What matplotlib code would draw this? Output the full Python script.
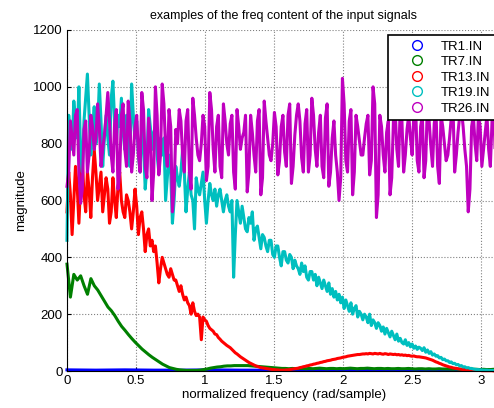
import numpy as np
import matplotlib
matplotlib.use('Agg')
import matplotlib.pyplot as plt
from matplotlib.lines import Line2D

plt.rcParams['font.family'] = ['Liberation Sans', 'DejaVu Sans']

labels = ['TR1.IN', 'TR7.IN', 'TR13.IN', 'TR19.IN', 'TR26.IN']
colors = ['#0000ff', '#008000', '#ff0000', '#00bfbf', '#bf00bf']

# magnitude estimates (bins spread evenly over 0..pi)
tr1 = [4, 3, 4, 3, 3, 4, 3, 3, 4, 3, 3, 4, 3, 3, 4, 3]

tr7 = [376, 260, 340, 320, 335, 300, 270, 325, 300, 285, 265, 245, 225, 212, 195, 175,
       157, 143, 128, 114, 101, 89, 77, 67, 57, 48, 40, 32, 24, 18, 12, 9,
       6, 4, 3, 2, 2, 2, 2, 3, 5, 7, 10, 12, 14, 15, 17, 18,
       18, 19, 19, 19, 19, 19, 18, 17, 16, 15, 14, 13, 12, 11, 10, 9,
       9, 8, 9, 8, 9, 9, 8, 9, 8, 9, 10, 9, 8, 9, 9, 8,
       9, 8, 9, 10, 9, 8, 9, 9, 10, 9, 8, 9, 9, 8, 9, 8,
       8, 9, 8, 8, 9, 8, 7, 8, 8, 7, 8, 7, 7, 8, 7, 7,
       7, 6, 7, 6, 6, 7, 6, 6, 6, 5, 6, 5, 5, 6, 5, 5]

tr13 = [560, 700, 620, 480, 600, 720, 650, 520, 660, 740, 620, 560, 700, 640, 540, 680,
        780, 700, 600, 650, 700, 560, 620, 680, 640, 520, 560, 680, 600, 540, 650, 700,
        600, 560, 540, 620, 600, 560, 500, 560, 640, 580, 480, 540, 560, 500, 420, 480,
        500, 440, 460, 420, 440, 380, 310, 360, 400, 380, 360, 340, 330, 360, 340, 320,
        320, 300, 280, 300, 270, 250, 260, 240, 230, 200, 240, 210, 195, 200, 190, 110,
        190, 180, 175, 160, 150, 145, 140, 130, 128, 118, 112, 105, 100, 95, 90, 86,
        82, 76, 70, 64, 60, 55, 50, 46, 42, 38, 34, 30, 27, 24, 21, 18,
        16, 14, 12, 11, 10, 9, 8, 7, 6, 5, 5, 4, 4, 3, 3, 3,
        3, 4, 4, 5, 6, 7, 8, 9, 10, 12, 13, 15, 16, 18, 19, 21,
        22, 24, 25, 27, 28, 30, 31, 33, 34, 36, 37, 38, 40, 41, 42, 44,
        45, 46, 48, 49, 50, 52, 53, 54, 55, 56, 57, 58, 58, 59, 60, 60,
        61, 60, 62, 61, 60, 62, 61, 60, 62, 60, 59, 61, 60, 58, 60, 59,
        58, 59, 57, 58, 56, 57, 55, 56, 54, 55, 53, 52, 53, 51, 50, 50,
        49, 48, 47, 46, 44, 42, 40, 38, 35, 32, 30, 27, 25, 22, 20, 18,
        16, 14, 13, 11, 10, 9, 8, 7, 6, 5, 5, 4, 4, 3, 3, 3,
        2, 2, 2, 2, 1, 1, 1, 1, 1, 1, 1, 0, 0, 0, 0, 0]

tr19 = [460, 900, 820, 780, 950, 880, 820, 1000, 760, 700, 880, 960, 1045, 900, 760, 850,
        930, 800, 850, 1010, 880, 720, 820, 900, 820, 760, 960, 1020, 880, 800, 900, 860,
        960, 840, 780, 900, 820, 720, 1010, 900, 820, 880, 760, 700, 860, 800, 640, 720,
        920, 860, 780, 840, 860, 760, 700, 820, 760, 820, 600, 680, 760, 700, 520, 600,
        720, 680, 650, 700, 780, 700, 560, 640, 700, 620, 600, 500, 680, 640, 620, 660,
        700, 600, 520, 600, 660, 620, 600, 640, 580, 620, 640, 600, 560, 600, 620, 580,
        560, 600, 330, 480, 600, 560, 520, 580, 540, 500, 490, 540, 520, 560, 460, 500,
        510, 470, 430, 480, 470, 440, 420, 460, 460, 410, 400, 440, 440, 400, 370, 420,
        420, 390, 380, 410, 400, 360, 390, 370, 360, 340, 380, 350, 370, 330, 320, 350,
        350, 320, 340, 300, 330, 310, 290, 320, 300, 280, 310, 270, 290, 260, 280, 250,
        270, 240, 260, 220, 250, 230, 210, 240, 200, 220, 230, 190, 210, 200, 180, 200,
        190, 170, 200, 160, 180, 170, 150, 170, 160, 140, 155, 130, 150, 135, 120, 140,
        125, 110, 130, 105, 115, 100, 95, 110, 90, 100, 85, 95, 80, 88, 76, 84,
        80, 72, 82, 66, 74, 62, 68, 56, 60, 52, 54, 46, 48, 40, 42, 36,
        36, 30, 32, 26, 27, 22, 23, 18, 19, 14, 15, 11, 12, 9, 9, 7,
        6, 5, 5, 4, 4, 3, 3, 3, 2, 2, 2, 2, 1, 1, 1, 1]

tr26 = [650, 700, 880, 820, 760, 900, 920, 700, 590, 640, 850, 880, 700, 760, 900, 860,
        780, 820, 940, 860, 720, 780, 830, 900, 980, 880, 760, 700, 870, 920, 640, 700,
        900, 940, 780, 720, 950, 880, 700, 760, 860, 900, 760, 700, 980, 920, 720, 680,
        890, 820, 600, 700, 1000, 900, 690, 760, 1010, 940, 780, 720, 920, 860, 560, 640,
        850, 800, 920, 880, 760, 700, 880, 920, 700, 640, 960, 900, 820, 760, 740, 800,
        900, 860, 670, 720, 980, 920, 780, 700, 860, 900, 720, 680, 940, 880, 800, 760,
        870, 900, 700, 640, 920, 860, 780, 820, 840, 900, 630, 700, 900, 840, 760, 700,
        880, 920, 620, 680, 950, 880, 820, 760, 740, 800, 910, 860, 690, 740, 860, 900,
        770, 720, 900, 940, 660, 720, 830, 900, 940, 880, 750, 700, 870, 920, 700, 760,
        960, 900, 780, 720, 840, 900, 720, 680, 890, 940, 650, 700, 820, 880, 760, 700,
        600, 680, 1030, 940, 740, 700, 880, 920, 620, 700, 900, 860, 810, 760, 760, 820,
        870, 900, 690, 740, 1000, 940, 540, 620, 900, 860, 760, 700, 840, 880, 620, 680,
        880, 920, 780, 720, 930, 880, 700, 760, 850, 900, 820, 760, 900, 940, 740, 700,
        860, 900, 680, 740, 940, 880, 790, 720, 870, 920, 720, 660, 900, 860, 800, 740,
        760, 820, 890, 940, 700, 760, 840, 900, 920, 860, 780, 720, 560, 640, 860, 900,
        800, 740, 900, 860, 720, 780, 840, 900, 780, 720, 880, 920, 740, 700, 800, 780]

series = [tr1, tr7, tr13, tr19, tr26]

fig = plt.figure(figsize=(4.94, 4.08), dpi=100)
ax = fig.add_axes([67 / 494, 37 / 408, (np.pi * 138) / 494, 341 / 408])

for y, c in zip(series, colors):
    x = np.linspace(0, np.pi, len(y))
    ax.plot(x, y, color=c, lw=2.2, clip_on=False)

ax.set_xlim(0, np.pi)
ax.set_ylim(0, 1200)
ax.set_xticks([0, 0.5, 1, 1.5, 2, 2.5, 3])
ax.set_xticklabels(['0', '0.5', '1', '1.5', '2', '2.5', '3'])
ax.set_yticks(range(0, 1201, 200))
ax.grid(True, linestyle=':', color='#808080', lw=0.8)
ax.tick_params(direction='in', length=3, labelsize=9.5, pad=3)
ax.spines['top'].set_visible(False)
ax.spines['right'].set_visible(False)

ax.set_title('examples of the freq content of the input signals', fontsize=9, pad=8)
ax.set_xlabel('normalized frequency (rad/sample)', fontsize=9.5, labelpad=1)
ax.set_ylabel('magnitude', fontsize=9.5, labelpad=4)

handles = [Line2D([], [], ls='none', marker='o', mfc='none', mec=c, ms=7, mew=1)
           for c in colors]
leg = fig.legend(handles, labels, loc='upper left', bbox_to_anchor=(388 / 494, 1 - 35 / 408),
                 borderaxespad=0, fontsize=9.5, handlelength=3.6, handletextpad=0,
                 labelspacing=0.25, fancybox=False, framealpha=1, edgecolor='black')
leg.get_frame().set_linewidth(1.2)

fig.savefig('out.png', dpi=100)
